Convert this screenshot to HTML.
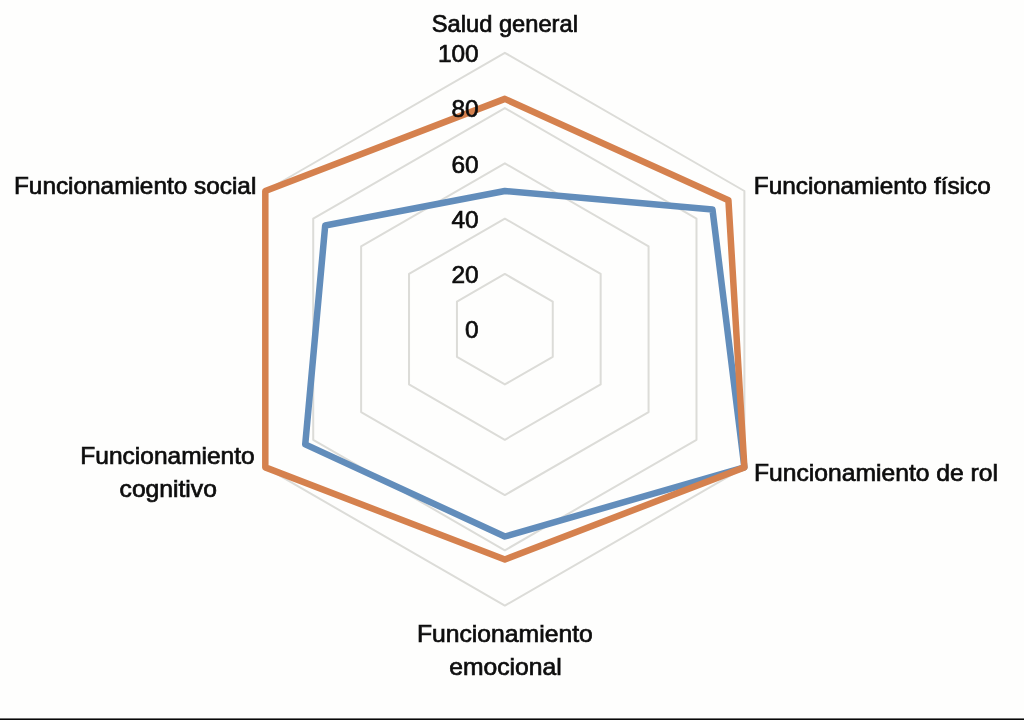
<!DOCTYPE html>
<html><head><meta charset="utf-8">
<style>
html,body{margin:0;padding:0;background:#fefefd;}
body{width:1024px;height:720px;overflow:hidden;position:relative;}
svg{position:absolute;left:0;top:0;will-change:transform;}
text{font-family:"Liberation Sans",sans-serif;font-size:24px;fill:#0d0d0d;stroke:#0d0d0d;stroke-width:0.7px;}
.t{font-size:24.4px;}
.g{fill:none;stroke:#dcdcd8;stroke-width:2;stroke-linejoin:round;}
.s{fill:none;stroke-width:6.5;stroke-linejoin:round;}
#bar{position:absolute;left:0;top:718px;width:1024px;height:1px;background:#707070;}
#bar2{position:absolute;left:0;top:719px;width:1024px;height:1px;background:#080808;}
</style></head><body>
<svg width="1024" height="720" viewBox="0 0 1024 720">
<polygon points="504.85,273.92 552.76,301.56 552.76,356.84 504.85,384.48 456.94,356.84 456.94,301.56" class="g"/>
<polygon points="504.85,218.64 600.67,273.92 600.67,384.48 504.85,439.76 409.03,384.48 409.03,273.92" class="g"/>
<polygon points="504.85,163.36 648.58,246.28 648.58,412.12 504.85,495.04 361.12,412.12 361.12,246.28" class="g"/>
<polygon points="504.85,108.08 696.48,218.64 696.48,439.76 504.85,550.32 313.22,439.76 313.22,218.64" class="g"/>
<polygon points="504.85,52.80 744.39,191.00 744.39,467.40 504.85,605.60 265.31,467.40 265.31,191.00" class="g"/>

<polygon points="504.85,191.00 712.46,209.42 744.39,467.40 504.85,536.50 305.24,444.36 325.19,225.55" class="s" stroke="#628dbb"/>
<polygon points="504.85,98.88 728.42,200.22 744.39,467.40 504.85,559.52 265.31,467.40 265.31,191.00" class="s" stroke="#d5814e"/>
<text x="478.6" y="62.00" text-anchor="end" class="t">100</text>
<text x="478.6" y="117.28" text-anchor="end" class="t">80</text>
<text x="478.6" y="172.56" text-anchor="end" class="t">60</text>
<text x="478.6" y="227.84" text-anchor="end" class="t">40</text>
<text x="478.6" y="283.12" text-anchor="end" class="t">20</text>
<text x="478.6" y="338.40" text-anchor="end" class="t">0</text>

<text id="salud" x="431.80" y="31.8" textLength="146.11" lengthAdjust="spacingAndGlyphs">Salud general</text>
<text id="fisico" x="753.76" y="193.6" textLength="237.02" lengthAdjust="spacingAndGlyphs">Funcionamiento físico</text>
<text id="rol" x="753.94" y="480.9" textLength="244.07" lengthAdjust="spacingAndGlyphs">Funcionamiento de rol</text>
<text id="social" x="13.96" y="193.5" textLength="242.36" lengthAdjust="spacingAndGlyphs">Funcionamiento social</text>
<text id="cog1" x="80.33" y="464.3" textLength="174.36" lengthAdjust="spacingAndGlyphs">Funcionamiento</text>
<text id="cog2" x="119.58" y="497.0" textLength="97.28" lengthAdjust="spacingAndGlyphs">cognitivo</text>
<text id="emo1" x="416.93" y="642.3" textLength="175.85" lengthAdjust="spacingAndGlyphs">Funcionamiento</text>
<text id="emo2" x="449.16" y="674.7" textLength="112.49" lengthAdjust="spacingAndGlyphs">emocional</text>

</svg>
<div id="bar"></div><div id="bar2"></div>
</body></html>
